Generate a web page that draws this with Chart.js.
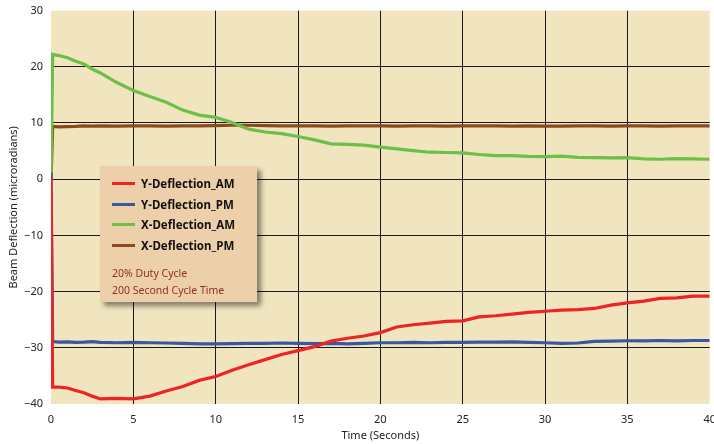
<!DOCTYPE html>
<html>
<head>
<meta charset="utf-8">
<script src="https://cdn.jsdelivr.net/npm/chart.js@4"></script>
<style>
html,body{margin:0;padding:0;background:#fff;width:714px;height:444px;overflow:hidden;}
#wrap{position:relative;width:714px;height:444px;overflow:hidden;}
#c{position:absolute;left:0;top:-4px;}
#legend{position:absolute;left:100px;top:166px;width:157px;height:136px;background:#EDCFAA;
  box-shadow:4px 4px 5px rgba(0,0,0,0.45);font-family:"Noto Sans",sans-serif;box-sizing:border-box;padding:7px 0 0 12px;}
.item{height:20.8px;display:flex;align-items:center;font-weight:bold;font-size:11.5px;color:#111;}
.sw{display:inline-block;width:23px;height:3px;margin-right:6px;}
.note{font-size:10.5px;color:#8B3326;line-height:17px;}
</style>
</head>
<body>
<div id="wrap">
<canvas id="c" width="725" height="448"></canvas>
<div id="legend"></div>
</div>
<script>
const seriesNames = ["Y-Deflection_AM","Y-Deflection_PM","X-Deflection_AM","X-Deflection_PM"];
const seriesColors = ["#EE2325","#3A56A5","#6CBF47","#8B4A1E"];
const noteLines = ["20% Duty Cycle","200 Second Cycle Time"];
const xTicks = [0,5,10,15,20,25,30,35,40];
const yTicks = [-40,-30,-20,-10,0,10,20,30];

const time = [0,0.1,0.5,1,1.5,2,2.5,3,4,5,6,7,8,9,10,11,12,13,14,15,16,17,18,19,20,21,22,23,24,25,26,27,28,29,30,31,32,33,34,35,36,37,38,39,40];
const yDefAM = [0.3,-37.0,-37.0,-37.15,-37.6,-38.0,-38.6,-39.1,-39.0,-39.1,-38.6,-37.7,-36.9,-35.8,-35.1,-34.0,-33.0,-32.1,-31.2,-30.5,-29.8,-28.8,-28.3,-27.9,-27.3,-26.3,-25.9,-25.6,-25.3,-25.2,-24.5,-24.3,-24.0,-23.7,-23.5,-23.3,-23.2,-23.0,-22.4,-22.0,-21.7,-21.2,-21.1,-20.8,-20.8];
const yDefPM = [1.2,-28.9,-29.0,-28.95,-29.05,-29.0,-28.9,-29.05,-29.1,-29.05,-29.1,-29.15,-29.2,-29.3,-29.3,-29.25,-29.2,-29.2,-29.15,-29.2,-29.25,-29.2,-29.3,-29.2,-29.1,-29.1,-29.05,-29.1,-29.05,-29.05,-29.0,-29.0,-28.95,-29.05,-29.1,-29.2,-29.15,-28.85,-28.8,-28.75,-28.75,-28.7,-28.75,-28.7,-28.7];
const xDefAM = [0,22.2,22.0,21.6,21.0,20.5,19.6,18.9,17.2,15.8,14.7,13.7,12.3,11.4,11.0,10.1,8.9,8.4,8.1,7.6,7.0,6.3,6.2,6.05,5.7,5.4,5.1,4.8,4.75,4.7,4.4,4.2,4.2,4.05,4.0,4.1,3.9,3.85,3.8,3.85,3.6,3.55,3.65,3.6,3.55];
const xDefPM = [-0.3,9.4,9.3,9.35,9.4,9.5,9.45,9.5,9.45,9.5,9.5,9.45,9.5,9.5,9.55,9.6,9.6,9.55,9.5,9.5,9.5,9.45,9.5,9.5,9.5,9.45,9.5,9.5,9.45,9.5,9.5,9.5,9.45,9.5,9.45,9.45,9.5,9.5,9.45,9.5,9.5,9.45,9.5,9.5,9.5];
const seriesValues = [yDefAM, yDefPM, xDefAM, xDefPM];

const datasets = seriesNames.map((n,i)=>({
  label:n,
  data: time.map((t,k)=>({x:t,y:seriesValues[i][k]})),
  borderColor: seriesColors[i],
  backgroundColor: seriesColors[i],
  borderWidth: 3.2,
  pointRadius: 0,
  tension: 0,
  fill: false
}));

const bgPlugin = {
  id:'bg',
  beforeDraw(chart){
    const {ctx, chartArea:a} = chart;
    ctx.save(); ctx.fillStyle = '#F1E5BF';
    ctx.fillRect(a.left, a.top, a.right-a.left, a.bottom-a.top);
    ctx.restore();
  }
};

const fam = '"Noto Sans", sans-serif';
new Chart(document.getElementById('c'), {
  type:'line',
  data:{datasets},
  plugins:[bgPlugin],
  options:{
    responsive:false, animation:false,
    layout:{padding:{top:3,right:6,left:0,bottom:0}},
    plugins:{legend:{display:false}, tooltip:{enabled:false}},
    scales:{
      x:{
        type:'linear', min:0, max:40,
        afterBuildTicks(s){ s.ticks = xTicks.map(v=>({value:v})); },
        afterFit(s){ s.height = 40; },
        grid:{color:(c)=> (c.tick && (c.tick.value===0||c.tick.value===40)) ? 'rgba(0,0,0,0)' : '#1a1a1a', lineWidth:1, drawTicks:false},
        border:{display:false},
        ticks:{color:'#222', font:{family:fam,size:11}, padding:9, maxRotation:0},
        title:{display:true, text:'Time (Seconds)', color:'#222', font:{family:fam,size:11}, padding:{top:0,bottom:2}}
      },
      y:{
        type:'linear', min:-40, max:30,
        afterBuildTicks(s){ s.ticks = yTicks.map(v=>({value:v})); },
        afterFit(s){ s.width = 51; },
        grid:{color:(c)=> (c.tick && (c.tick.value===-40||c.tick.value===30)) ? 'rgba(0,0,0,0)' : '#1a1a1a', lineWidth:1, drawTicks:false},
        border:{display:false},
        ticks:{color:'#222', font:{family:fam,size:11}, padding:8,
          callback:(v)=> String(v).replace('-','\u2212')},
        title:{display:true, text:'Beam Deflection (microradians)', color:'#222', font:{family:fam,size:11}, padding:{top:7,bottom:0}}
      }
    }
  }
});

const lg = document.getElementById('legend');
seriesNames.forEach((n,i)=>{
  const d = document.createElement('div'); d.className='item';
  const s = document.createElement('span'); s.className='sw'; s.style.background=seriesColors[i];
  d.appendChild(s); d.appendChild(document.createTextNode(n)); lg.appendChild(d);
});
const nb = document.createElement('div'); nb.style.marginTop='9px';
noteLines.forEach(t=>{ const d=document.createElement('div'); d.className='note'; d.textContent=t; nb.appendChild(d); });
lg.appendChild(nb);
</script>
</body>
</html>
